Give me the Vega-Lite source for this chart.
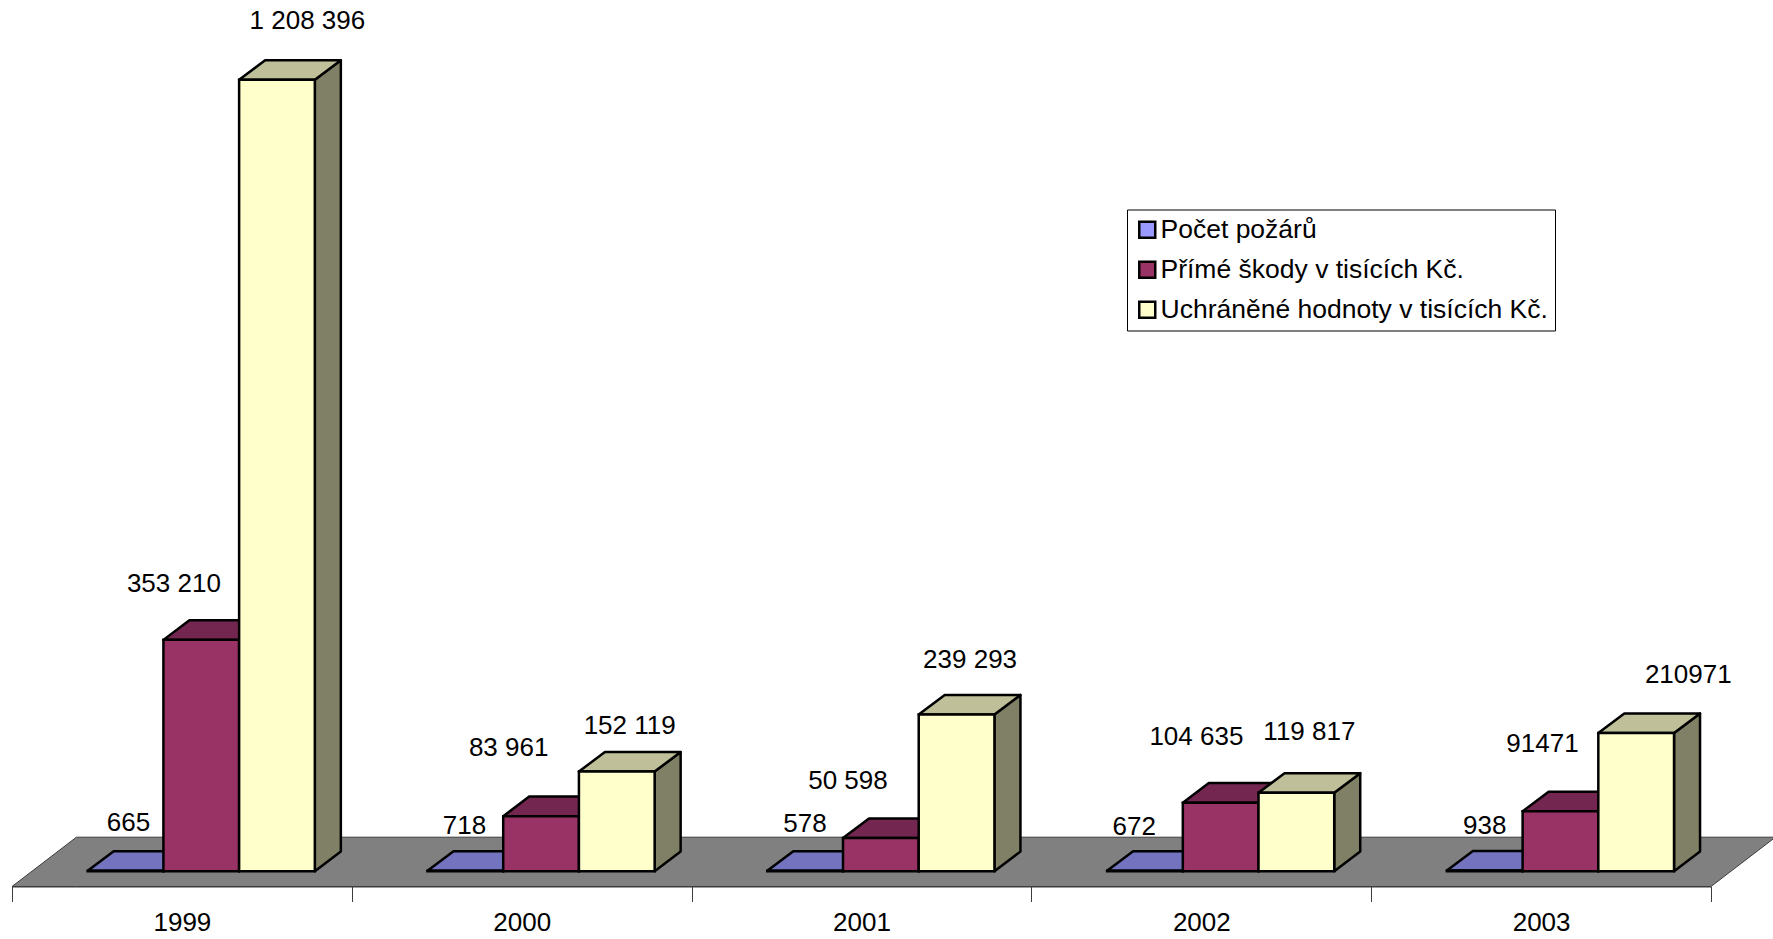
{"$schema":"https://vega.github.io/schema/vega-lite/v6.json","width":1699,"height":886,"autosize":"none","padding":{"left":12,"top":0.5,"right":62,"bottom":52.5},"background":"white","config":{"view":{"stroke":null},"font":"Liberation Sans","text":{"font":"Liberation Sans","fontSize":26,"fill":"black"}},"data":{"values":[
{"year":"1999","series":"Počet požárů","value":665,"label":"665"},
{"year":"1999","series":"Přímé škody v tisících Kč.","value":353210,"label":"353 210"},
{"year":"1999","series":"Uchráněné hodnoty v tisících Kč.","value":1208396,"label":"1 208 396"},
{"year":"2000","series":"Počet požárů","value":718,"label":"718"},
{"year":"2000","series":"Přímé škody v tisících Kč.","value":83961,"label":"83 961"},
{"year":"2000","series":"Uchráněné hodnoty v tisících Kč.","value":152119,"label":"152 119"},
{"year":"2001","series":"Počet požárů","value":578,"label":"578"},
{"year":"2001","series":"Přímé škody v tisících Kč.","value":50598,"label":"50 598"},
{"year":"2001","series":"Uchráněné hodnoty v tisících Kč.","value":239293,"label":"239 293"},
{"year":"2002","series":"Počet požárů","value":672,"label":"672"},
{"year":"2002","series":"Přímé škody v tisících Kč.","value":104635,"label":"104 635"},
{"year":"2002","series":"Uchráněné hodnoty v tisících Kč.","value":119817,"label":"119 817"},
{"year":"2003","series":"Počet požárů","value":938,"label":"938"},
{"year":"2003","series":"Přímé škody v tisících Kč.","value":91471,"label":"91471"},
{"year":"2003","series":"Uchráněné hodnoty v tisících Kč.","value":210971,"label":"210971"}
]},
"transform":[
{"calculate":"toNumber(datum.year)-1999","as":"c"},
{"calculate":"indexof(['Počet požárů','Přímé škody v tisících Kč.','Uchráněné hodnoty v tisících Kč.'],datum.series)","as":"s"},
{"calculate":"datum.c+0.2228*(1+datum.s)","as":"x0"},
{"calculate":"datum.x0+0.2228","as":"x1"}
],
"layer":[
{"transform":[{"filter":"datum.c==0&&datum.s==0"},{"calculate":"[0,1,2,3]","as":"v"},{"flatten":["v"]},
{"calculate":"[0,0.1896,5,5.1896][datum.v]","as":"px"},
{"calculate":"[-23362,-23362,-23362,51915][datum.v]","as":"py"},
{"calculate":"[-23362,51915,51915,51915][datum.v]","as":"py2"}],
"mark":{"type":"area","orient":"vertical","fill":"#808080","stroke":"#3c3c3c","strokeWidth":1},
"encoding":{"x":{"field":"px","type":"quantitative","scale":{"domain":[0,5],"nice":false,"zero":false},"axis":null},
"y":{"field":"py","type":"quantitative","scale":{"domain":[-23362,1329472],"nice":false,"zero":false},"axis":null},"y2":{"field":"py2"}}},
{"mark":{"type":"point","opacity":0},
"encoding":{"x":{"field":"year","type":"ordinal","scale":{"type":"band","paddingInner":0,"paddingOuter":0},
"axis":{"orient":"bottom","title":null,"tickBand":"extent","labelAngle":0,"labelFont":"Liberation Sans","labelFontSize":26,"labelColor":"black","labelPadding":8,"tickSize":15,"tickColor":"#3c3c3c","domainColor":"#3c3c3c","grid":false}}}},
{"transform":[{"calculate":"[0,1]","as":"v"},{"flatten":["v"]},
{"calculate":"datum.x1+0.07654*datum.v","as":"px"},
{"calculate":"datum.value+29927*datum.v","as":"py"},
{"calculate":"29927*datum.v","as":"py2"},
{"calculate":"'side'+datum.s","as":"face"},
{"calculate":"datum.c*3+datum.s","as":"id"}],
"mark":{"type":"area","orient":"vertical","stroke":"black","strokeWidth":2.5,"strokeJoin":"round"},
"encoding":{"x":{"field":"px","type":"quantitative","scale":{"domain":[0,5],"nice":false,"zero":false},"axis":null},
"y":{"field":"py","type":"quantitative","axis":null},"y2":{"field":"py2"},"detail":{"field":"id"},
"fill":{"field":"face","type":"nominal","legend":null,"scale":{"domain":["side0","side1","side2","top0","top1","top2"],"range":["#4d4d80","#4d1a33","#808066","#7373bf","#732650","#bfbf99"]}}}},
{"transform":[{"calculate":"[0,1,2,3]","as":"v"},{"flatten":["v"]},
{"calculate":"[datum.x0,datum.x0+0.07654,datum.x1,datum.x1+0.07654][datum.v]","as":"px"},
{"calculate":"datum.value+[0,0,0,29927][datum.v]","as":"py"},
{"calculate":"datum.value+[0,29927,29927,29927][datum.v]","as":"py2"},
{"calculate":"'top'+datum.s","as":"face"},
{"calculate":"datum.c*3+datum.s","as":"id"}],
"mark":{"type":"area","orient":"vertical","stroke":"black","strokeWidth":2.5,"strokeJoin":"round"},
"encoding":{"x":{"field":"px","type":"quantitative","scale":{"domain":[0,5],"nice":false,"zero":false},"axis":null},
"y":{"field":"py","type":"quantitative","axis":null},"y2":{"field":"py2"},"detail":{"field":"id"},
"fill":{"field":"face","type":"nominal","legend":null,"scale":{"domain":["side0","side1","side2","top0","top1","top2"],"range":["#4d4d80","#4d1a33","#808066","#7373bf","#732650","#bfbf99"]}}}},
{"mark":{"type":"rect","stroke":"black","strokeWidth":2.5},
"encoding":{"x":{"field":"x0","type":"quantitative","scale":{"domain":[0,5],"nice":false,"zero":false},"axis":null},"x2":{"field":"x1"},
"y":{"field":"value","type":"quantitative","axis":null},"y2":{"datum":0},
"color":{"field":"series","type":"nominal","scale":{"domain":["Počet požárů","Přímé škody v tisících Kč.","Uchráněné hodnoty v tisících Kč."],"range":["#9999ff","#993366","#ffffcc"]},
"legend":{"orient":"none","legendX":1115,"legendY":209,"title":null,"fillColor":"white","strokeColor":"black","padding":7,"symbolType":"square","symbolSize":256,"symbolStrokeColor":"black","symbolStrokeWidth":2.5,"symbolOpacity":1,"labelFont":"Liberation Sans","labelFontSize":26.5,"labelColor":"black","labelOffset":0,"rowPadding":13,"labelLimit":500}}}},
{"transform":[
{"calculate":"[[3,-49.4],[-27.4,-57.1],[30.4,-60.1],[-0.8,-45.9],[-32.4,-69.4],[12.9,-47.5],[-0.1,-48.3],[-32.9,-58.6],[13.5,-56],[-10.8,-44.9],[-24.3,-67.2],[13,-61.8],[0,-45.8],[-18,-69.1],[52.1,-59.7]][datum.c*3+datum.s]","as":"off"},
{"calculate":"datum.x0+0.1114+datum.off[0]/339.8","as":"lx"},
{"calculate":"datum.value-(datum.off[1]+1.5)*1526.9","as":"ly"}],
"mark":{"type":"text","align":"center","baseline":"middle","font":"Liberation Sans","fontSize":26},
"encoding":{"x":{"field":"lx","type":"quantitative","scale":{"domain":[0,5],"nice":false,"zero":false},"axis":null},
"y":{"field":"ly","type":"quantitative","axis":null},"text":{"field":"label","type":"nominal"}}}
],
"resolve":{"scale":{"x":"independent"}}}
